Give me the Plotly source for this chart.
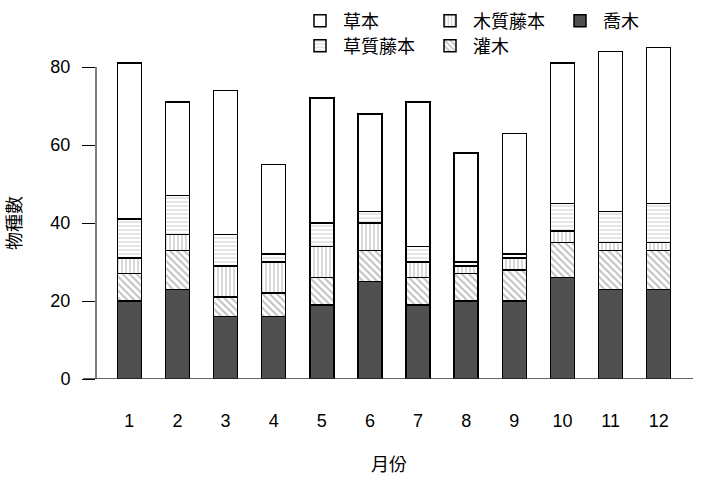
import plotly.graph_objects as go

months = [1, 2, 3, 4, 5, 6, 7, 8, 9, 10, 11, 12]
month_labels = [str(m) for m in months]
tree = [20, 23, 16, 16, 19, 25, 19, 20, 20, 26, 23, 23]          # 喬木
shrub = [7, 10, 5, 6, 7, 8, 7, 7, 8, 9, 10, 10]                  # 灌木
woody_vine = [4, 4, 8, 8, 8, 7, 4, 2, 3, 3, 2, 2]               # 木質藤本
herb_vine = [10, 10, 8, 2, 6, 3, 4, 1, 1, 7, 8, 10]             # 草質藤本
herb = [40, 24, 37, 23, 32, 25, 37, 28, 31, 36, 41, 40]         # 草本
y_ticks = [0, 20, 40, 60, 80]

FONT = "Liberation Sans, Noto Sans CJK TC, sans-serif"
LINE = dict(color="black", width=1.5)
PLOT_H = 379  # plot-area height in px (margin top 0)
Y_MAX = PLOT_H / 3.9

series = [
    ("喬木", tree, dict(color="#505050", line=LINE), "legend"),
    ("灌木", shrub, dict(color="white", line=LINE,
                       pattern=dict(shape="\\", fgcolor="#808080", bgcolor="white", size=5, solidity=0.4)), "legend2"),
    ("木質藤本", woody_vine, dict(color="white", line=LINE,
                          pattern=dict(shape="|", fgcolor="#949494", bgcolor="white", size=4, solidity=0.35)), "legend"),
    ("草質藤本", herb_vine, dict(color="white", line=LINE,
                           pattern=dict(shape="-", fgcolor="#ababab", bgcolor="white", size=4, solidity=0.3)), "legend2"),
    ("草本", herb, dict(color="white", line=LINE), "legend"),
]

fig = go.Figure()
for name, vals, marker, lg in series:
    fig.add_trace(go.Bar(x=months, y=vals, name=name, marker=marker, width=0.5, legend=lg))

leg_common = dict(orientation="h", xanchor="left", yanchor="middle",
                  traceorder="reversed", entrywidth=79, itemwidth=36,
                  font=dict(size=18), bgcolor="rgba(0,0,0,0)", borderwidth=0)

fig.update_layout(
    barmode="stack",
    width=717, height=478,
    margin=dict(l=96, r=24, t=0, b=99, autoexpand=False),
    paper_bgcolor="white", plot_bgcolor="white",
    font=dict(family=FONT, size=18, color="black"),
    showlegend=True,
    legend=dict(x=(297 - 96) / 597, y=1 - 21 / PLOT_H, **leg_common),
    legend2=dict(x=(297 - 96) / 597, y=1 - 46 / PLOT_H, **leg_common),
    xaxis=dict(range=[0.308, 12.713], tickvals=months, ticktext=month_labels,
               ticks="", showline=False, showgrid=False, zeroline=False,
               ticklabelstandoff=29, tickfont=dict(size=18)),
    yaxis=dict(range=[0, Y_MAX], tickvals=y_ticks, ticks="outside", ticklen=13,
               tickcolor="black", tickwidth=1, showline=False, showgrid=False,
               zeroline=False, ticklabelstandoff=8, tickfont=dict(size=18)),
    shapes=[
        dict(type="line", xref="paper", yref="y", x0=0, x1=0, y0=0, y1=80,
             line=dict(color="black", width=1)),
        dict(type="line", xref="paper", yref="y", x0=-13/597, x1=1, y0=0, y1=0,
             line=dict(color="#333333", width=1.5), layer="above"),
    ],
    annotations=[
        dict(text="物種數", xref="paper", yref="y", x=(15 - 96) / 597, y=40,
             textangle=-90, showarrow=False, font=dict(size=18),
             xanchor="center", yanchor="middle"),
        dict(text="月份", xref="paper", yref="paper", x=(389 - 96) / 597, y=0,
             yshift=-86, showarrow=False, font=dict(size=18),
             xanchor="center", yanchor="middle"),
    ],
)

fig.write_html("out.html")
